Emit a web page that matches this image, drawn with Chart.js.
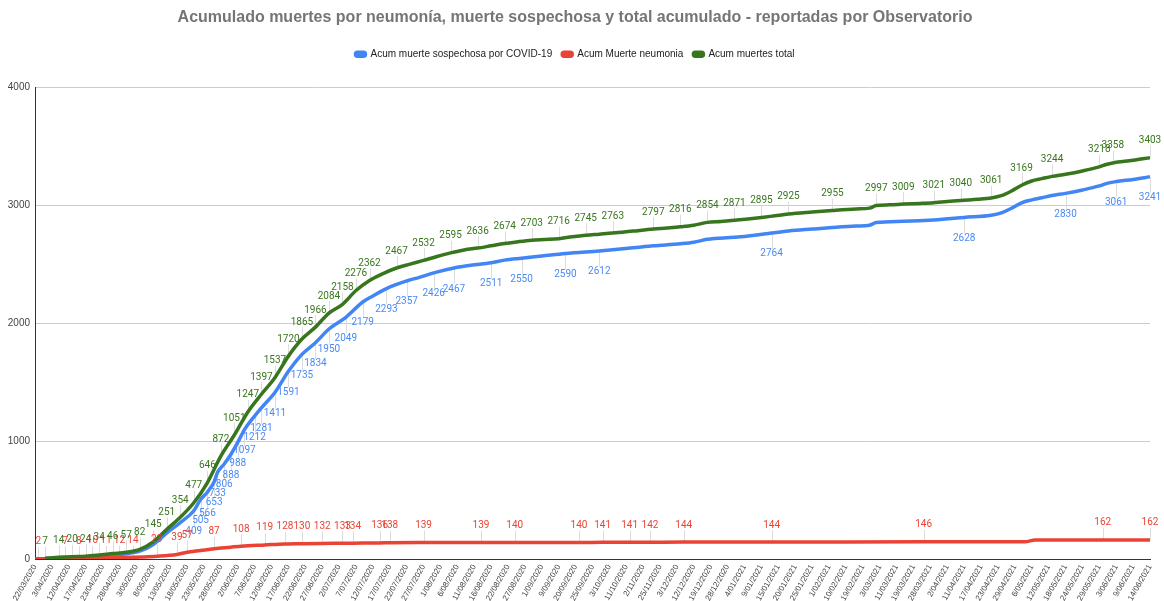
<!DOCTYPE html>
<html>
<head>
<meta charset="utf-8">
<script src="https://cdn.jsdelivr.net/npm/chart.js@4.4.0/dist/chart.umd.min.js"></script>
<style>
  html, body { margin: 0; background: #fff; }
  #wrap { width: 1164px; height: 601px; }
</style>
</head>
<body>
<div id="wrap"><canvas id="chart" width="1164" height="601"></canvas></div>
<script>
// one tick label every 5 report rows
const dates = [
  "22/03/2020", "3/04/2020", "12/04/2020", "17/04/2020", "23/04/2020", "28/04/2020",
  "3/05/2020", "8/05/2020", "13/05/2020", "18/05/2020", "23/05/2020", "28/05/2020",
  "2/06/2020", "7/06/2020", "12/06/2020", "17/06/2020", "22/06/2020", "27/06/2020",
  "2/07/2020", "7/07/2020", "12/07/2020", "17/07/2020", "22/07/2020", "27/07/2020",
  "1/08/2020", "6/08/2020", "11/08/2020", "16/08/2020", "22/08/2020", "27/08/2020",
  "1/09/2020", "9/09/2020", "20/09/2020", "25/09/2020", "3/10/2020", "11/10/2020",
  "2/11/2020", "25/11/2020", "3/12/2020", "12/12/2020", "19/12/2020", "28/12/2020",
  "4/01/2021", "9/01/2021", "15/01/2021", "20/01/2021", "25/01/2021", "1/02/2021",
  "10/02/2021", "19/02/2021", "3/03/2021", "11/03/2021", "19/03/2021", "28/03/2021",
  "2/04/2021", "11/04/2021", "17/04/2021", "23/04/2021", "29/04/2021", "6/05/2021",
  "12/05/2021", "18/05/2021", "24/05/2021", "29/05/2021", "3/06/2021", "9/06/2021",
  "14/06/2021"
];
const rowsPerTick = 5;

// [report row, value]
const sospechosa = [
  [3,5],[7,10],[11,13],[15,15],[19,24],[23,34],[27,44],[31,66],[35,123],[39,221],[43,309],
  [47,409],[49,505],[51,566],[53,653],[54,733],[56,806],[58,888],[60,988],[62,1097],
  [65,1212],[67,1281],[71,1411],[75,1591],[79,1735],[83,1834],[87,1950],[92,2049],
  [97,2179],[100,2230],[104,2293],[110,2357],[114,2390],[118,2426],[124,2467],[129,2490],
  [135,2511],[139,2534],[144,2550],[150,2568],[157,2590],[167,2612],[171,2622],[177,2638],
  [183,2655],[191,2673],[195,2686],[199,2710],[207,2727],[213,2745],[218,2764],[223,2781],
  [230,2797],[236,2810],[243,2823],[247,2830],[249,2852],[257,2863],[266,2875],[275,2896],
  [283,2915],[286,2934],[289,2974],[292,3020],[295,3045],[298,3063],[301,3082],[305,3100],
  [310,3128],[315,3163],[317,3183],[320,3200],[325,3218],[330,3241]
];
const neumonia = [
  [0,1],[1,2],[5,4],[9,7],[13,8],[17,10],[21,11],[25,12],[29,14],[32,17],[36,23],[42,39],
  [45,57],[49,72],[53,87],[57,98],[61,108],[68,119],[74,128],[79,130],[85,132],[91,133],
  [94,134],[102,136],[105,138],[115,139],[132,139],[142,140],[161,140],[168,141],[176,141],
  [182,142],[192,144],[218,144],[263,146],[293,146],[296,162],[316,162],[330,162]
];
const total = [
  [3,7],[7,14],[11,20],[15,24],[19,34],[23,46],[27,57],[31,82],[35,145],[39,251],[43,354],
  [47,477],[51,646],[55,872],[59,1051],[63,1247],[67,1397],[71,1537],[75,1720],[79,1865],
  [83,1966],[87,2084],[91,2158],[95,2276],[99,2362],[103,2420],[107,2467],[111,2500],
  [115,2532],[119,2565],[123,2595],[127,2620],[131,2636],[135,2655],[139,2674],[143,2690],
  [147,2703],[151,2709],[155,2716],[159,2732],[163,2745],[167,2754],[171,2763],[177,2780],
  [183,2797],[187,2806],[191,2816],[195,2830],[199,2854],[203,2862],[207,2871],[211,2882],
  [215,2895],[219,2910],[223,2925],[230,2942],[236,2955],[243,2968],[247,2975],[249,2997],
  [253,3003],[257,3009],[262,3015],[266,3021],[270,3030],[274,3040],[279,3050],[283,3061],
  [286,3080],[289,3120],[292,3169],[295,3205],[298,3225],[301,3244],[305,3262],[310,3290],
  [315,3325],[317,3345],[319,3358],[325,3380],[330,3403]
];

// data labels shown on the chart: [report row, text]
const sospechosaLabels = [
  [47,"409"],[49,"505"],[51,"566"],[53,"653"],[54,"733"],[56,"806"],[58,"888"],[60,"988"],
  [62,"1097"],[65,"1212"],[67,"1281"],[71,"1411"],[75,"1591"],[79,"1735"],[83,"1834"],
  [87,"1950"],[92,"2049"],[97,"2179"],[104,"2293"],[110,"2357"],[118,"2426"],[124,"2467"],
  [135,"2511"],[144,"2550"],[157,"2590"],[167,"2612"],[218,"2764"],[275,"2628"],
  [305,"2830"],[320,"3061"],[330,"3241"]
];
const neumoniaLabels = [
  [1,"2"],[9,"7"],[13,"8"],[17,"10"],[21,"11"],[25,"12"],[29,"14"],
  [36,"23"],[42,"39"],[45,"57"],[53,"87"],[61,"108"],[68,"119"],[74,"128"],[79,"130"],
  [85,"132"],[91,"133"],[94,"134"],[102,"136"],[105,"138"],[115,"139"],[132,"139"],
  [142,"140"],[161,"140"],[168,"141"],[176,"141"],[182,"142"],[192,"144"],[218,"144"],
  [263,"146"],[316,"162"],[330,"162"]
];
const totalLabels = [
  [3,"7"],[7,"14"],[11,"20"],[15,"24"],[19,"34"],[23,"46"],[27,"57"],[31,"82"],[35,"145"],
  [39,"251"],[43,"354"],[47,"477"],[51,"646"],[55,"872"],[59,"1051"],[63,"1247"],
  [67,"1397"],[71,"1537"],[75,"1720"],[79,"1865"],[83,"1966"],[87,"2084"],[91,"2158"],
  [95,"2276"],[99,"2362"],[107,"2467"],[115,"2532"],[123,"2595"],[131,"2636"],
  [139,"2674"],[147,"2703"],[155,"2716"],[163,"2745"],[171,"2763"],[183,"2797"],
  [191,"2816"],[199,"2854"],[207,"2871"],[215,"2895"],[223,"2925"],[236,"2955"],
  [249,"2997"],[257,"3009"],[266,"3021"],[274,"3040"],[283,"3061"],[292,"3169"],
  [301,"3244"],[315,"3218"],[319,"3358"],[330,"3403"]
];

const toPoints = (arr) => arr.map(([x, y]) => ({ x, y }));

// leader lines go under the series, the numbers on top
const pointLabels = {
  id: "pointLabels",
  beforeDatasetsDraw(chart) {
    const ctx = chart.ctx;
    ctx.save();
    ctx.strokeStyle = "#dcdcdc";
    ctx.lineWidth = 1;
    chart.data.datasets.forEach((ds, i) => {
      const meta = chart.getDatasetMeta(i);
      ds.pointLabels.forEach(([row, text]) => {
        const idx = ds.data.findIndex((p) => p.x === row);
        if (idx < 0) return;
        const pt = meta.data[idx];
        const ly = pt.y + ds.labelOffset;
        const edge = ds.labelOffset < 0 ? ly + 5 : ly - 5;
        const x = Math.round(pt.x) + 0.5;
        ctx.beginPath();
        ctx.moveTo(x, pt.y);
        ctx.lineTo(x, edge);
        ctx.stroke();
      });
    });
    ctx.restore();
  },
  afterDatasetsDraw(chart) {
    const ctx = chart.ctx;
    ctx.save();
    ctx.font = "10px Roboto";
    ctx.textAlign = "center";
    ctx.textBaseline = "middle";
    chart.data.datasets.forEach((ds, i) => {
      const meta = chart.getDatasetMeta(i);
      ctx.fillStyle = ds.labelColor;
      ds.pointLabels.forEach(([row, text]) => {
        const idx = ds.data.findIndex((p) => p.x === row);
        if (idx < 0) return;
        const pt = meta.data[idx];
        ctx.fillText(text, pt.x, pt.y + ds.labelOffset);
      });
    });
    ctx.restore();
  },
};

// empty box under the legend, pushes the plot area down
const legendGap = {
  id: "legendGap",
  beforeInit(chart) {
    Chart.layouts.addBox(chart, {
      position: "top",
      weight: 0,
      fullSize: true,
      options: {},
      update(maxWidth) { this.width = maxWidth; this.height = 18; },
      isHorizontal() { return true; },
      draw() {},
    });
  },
};

new Chart(document.getElementById("chart"), {
  type: "line",
  data: {
    datasets: [
      {
        label: "Acum muerte sospechosa por COVID-19",
        data: toPoints(sospechosa),
        borderColor: "#4285f4",
        backgroundColor: "#4285f4",
        pointLabels: sospechosaLabels,
        labelColor: "#4a8af4",
        labelOffset: 21,
        order: 2,
      },
      {
        label: "Acum Muerte neumonia",
        data: toPoints(neumonia),
        borderColor: "#ea4335",
        backgroundColor: "#ea4335",
        pointLabels: neumoniaLabels,
        labelColor: "#ea4335",
        labelOffset: -17,
        order: 1,
      },
      {
        label: "Acum muertes total",
        data: toPoints(total),
        borderColor: "#38761d",
        backgroundColor: "#38761d",
        pointLabels: totalLabels,
        labelColor: "#38761d",
        labelOffset: -17,
        order: 0,
      },
    ],
  },
  options: {
    responsive: false,
    animation: false,
    devicePixelRatio: 1,
    layout: { padding: { right: 14 } },
    elements: {
      point: { radius: 0 },
      line: { borderWidth: 3.5, cubicInterpolationMode: "monotone" },
    },
    scales: {
      x: {
        type: "linear",
        min: 0,
        max: 330,
        grid: { display: false, drawTicks: false },
        border: { display: true, color: "#333" },
        ticks: {
          stepSize: rowsPerTick,
          autoSkip: false,
          maxRotation: 60,
          minRotation: 60,
          padding: 4,
          color: "#444",
          font: { family: "Arial", size: 8 },
          callback: (v) => (v % rowsPerTick === 0 ? dates[v / rowsPerTick] : ""),
        },
        afterFit: (s) => { s.height = 42; },
      },
      y: {
        min: 0,
        max: 4000,
        grid: { color: "#cccccc", drawTicks: false },
        border: { display: true, color: "#333" },
        ticks: {
          stepSize: 1000,
          padding: 5,
          color: "#444",
          font: { family: "Arial", size: 10 },
          callback: (v) => String(v),
        },
        afterFit: (s) => { s.width = 35; },
      },
    },
    plugins: {
      title: {
        display: true,
        text: "Acumulado muertes por neumonía, muerte sospechosa y total acumulado - reportadas por Observatorio",
        color: "#757575",
        font: { family: "Arial", size: 16, weight: "bold" },
        padding: { top: 8, bottom: 12 },
      },
      legend: {
        labels: {
          color: "#222",
          font: { family: "Arial", size: 10 },
          boxWidth: 10,
          boxHeight: 4,
          useBorderRadius: true,
          borderRadius: 2,
          padding: 10,
          sort: (a, b) => a.datasetIndex - b.datasetIndex,
        },
      },
      tooltip: { enabled: false },
    },
  },
  plugins: [pointLabels, legendGap],
});
</script>
</body>
</html>
